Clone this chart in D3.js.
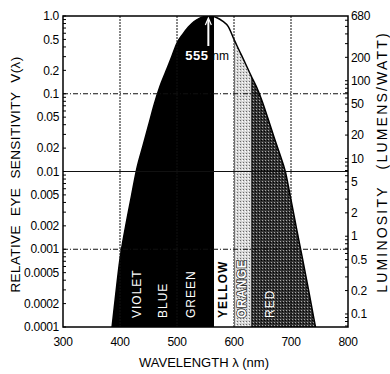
<!DOCTYPE html>
<html>
<head>
<meta charset="utf-8">
<script src="https://cdn.jsdelivr.net/npm/d3@7"></script>
<style>
  body { margin: 0; background: #fff; }
  svg { display: block; font-family: "Liberation Sans", Arial, sans-serif; }
</style>
</head>
<body>
<div id="chart"></div>
<script>
// eye sensitivity curve
var wavelengths = [380, 390, 400, 410, 420, 430, 440, 450, 460, 470, 480, 490, 500, 510, 520, 530, 540, 550, 555,
                   560, 570, 580, 590, 600, 610, 620, 630, 640, 650, 660, 670, 680, 690, 700, 710, 720, 730, 740, 750];
var sensitivity = [0.00004, 0.00018, 0.00075, 0.0020, 0.0048, 0.0113, 0.021, 0.039, 0.073, 0.124, 0.19, 0.29, 0.45, 0.58, 0.72, 0.85, 0.94, 0.99, 1.0,
                   0.99, 0.95, 0.86, 0.73, 0.50, 0.35, 0.245, 0.17, 0.12, 0.078, 0.047, 0.028, 0.017, 0.010, 0.0043, 0.0018, 0.00077, 0.00032, 0.00013, 0.000054];

var regionEdges = [380, 565, 600, 630, 760];
var bandNames = ["VIOLET", "BLUE", "GREEN", "YELLOW", "ORANGE", "RED"];
var bandLabelNm = [430, 476, 525, 581, 614, 664];

var xTicks = [300, 400, 500, 600, 700, 800];
var leftTicks = [1, 0.5, 0.2, 0.1, 0.05, 0.02, 0.01, 0.005, 0.002, 0.001, 0.0005, 0.0002, 0.0001];
var leftTickLabels = ["1.0", "0.5", "0.2", "0.1", "0.05", "0.02", "0.01", "0.005", "0.002", "0.001", "0.0005", "0.0002", "0.0001"];
var rightTicks = [680, 200, 100, 50, 20, 10, 5, 2, 1, 0.5, 0.2, 0.1];
var gridX = [400, 500, 600, 700];
var gridY = [0.1, 0.01, 0.001];
var peakNm = 555;
var maxLumens = 680;

var width = 390, height = 374;
var margin = { top: 16, right: 42, bottom: 47, left: 63 };
var x0 = margin.left, x1 = width - margin.right;
var y0 = height - margin.bottom, y1 = margin.top;

var x = d3.scaleLinear().domain([300, 800]).range([x0, x1]);
var y = d3.scaleLog().domain([0.0001, 1]).range([y0, y1]);
var yr = d3.scaleLog().domain([maxLumens * 0.0001, maxLumens]).range([y0, y1]);

var data = wavelengths.map(function(w, i) { return { nm: w, v: sensitivity[i] }; });

var svg = d3.select("#chart").append("svg")
    .attr("width", width)
    .attr("height", height);

var defs = svg.append("defs");
defs.append("clipPath").attr("id", "plot")
    .append("rect").attr("x", x0).attr("y", y1).attr("width", x1 - x0).attr("height", y0 - y1);

var po = defs.append("pattern").attr("id", "orange").attr("patternUnits", "userSpaceOnUse")
    .attr("width", 3).attr("height", 3);
po.append("rect").attr("width", 3).attr("height", 3).attr("fill", "#d6d6d6");
po.append("rect").attr("x", 0).attr("y", 0).attr("width", 1).attr("height", 1).attr("fill", "#6a6a6a");
po.append("rect").attr("x", 2).attr("y", 1).attr("width", 1).attr("height", 1).attr("fill", "#ffffff");

var pr = defs.append("pattern").attr("id", "red").attr("patternUnits", "userSpaceOnUse")
    .attr("width", 3).attr("height", 3);
pr.append("rect").attr("width", 3).attr("height", 3).attr("fill", "#333");
pr.append("rect").attr("x", 1).attr("y", 1).attr("width", 1).attr("height", 1).attr("fill", "#a8a8a8");
pr.append("rect").attr("x", 0).attr("y", 2).attr("width", 1).attr("height", 1).attr("fill", "#000");

var fills = ["#000", "#fff", "url(#orange)", "url(#red)"];
d3.range(regionEdges.length - 1).forEach(function(i) {
    defs.append("clipPath").attr("id", "band" + i)
        .append("rect")
        .attr("x", x(regionEdges[i])).attr("y", y1)
        .attr("width", x(regionEdges[i + 1]) - x(regionEdges[i])).attr("height", y0 - y1);
});

var area = d3.area()
    .x(function(d) { return x(d.nm); })
    .y0(y0)
    .y1(function(d) { return y(d.v); })
    .curve(d3.curveMonotoneX);

var line = d3.line()
    .x(function(d) { return x(d.nm); })
    .y(function(d) { return y(d.v); })
    .curve(d3.curveMonotoneX);

var plot = svg.append("g").attr("clip-path", "url(#plot)");

fills.forEach(function(f, i) {
    plot.append("g").attr("clip-path", "url(#band" + i + ")")
        .append("path").datum(data)
        .attr("d", area)
        .attr("fill", f);
});

plot.append("path").datum(data)
    .attr("d", line)
    .attr("fill", "none")
    .attr("stroke", "#000")
    .attr("stroke-width", 1.5);

// grid
plot.selectAll(".gx").data(gridX).enter().append("line")
    .attr("x1", function(d) { return x(d); }).attr("x2", function(d) { return x(d); })
    .attr("y1", y1).attr("y2", y0)
    .attr("stroke", "#111").attr("stroke-width", 1)
    .attr("stroke-dasharray", "2,1");

plot.selectAll(".gy").data(gridY).enter().append("line")
    .attr("x1", x0).attr("x2", x1)
    .attr("y1", function(d) { return y(d); }).attr("y2", function(d) { return y(d); })
    .attr("stroke", "#111").attr("stroke-width", 1)
    .attr("stroke-dasharray", function(d) { return d == 0.01 ? null : "5,2,1,2"; });

// 555nm marker
var px = x(peakNm);
plot.append("line").attr("x1", px).attr("x2", px).attr("y1", y1 + 4).attr("y2", y1 + 30)
    .attr("stroke", "#fff").attr("stroke-width", 2);
plot.append("path")
    .attr("d", "M" + (px - 3) + "," + (y1 + 9) + "L" + px + "," + (y1 + 2) + "L" + (px + 3) + "," + (y1 + 9))
    .attr("fill", "none").attr("stroke", "#fff").attr("stroke-width", 1.2);

svg.append("text").text(peakNm)
    .attr("x", px - 23).attr("y", y1 + 44)
    .attr("fill", "#fff")
    .style("font-size", "13px")
    .style("font-weight", "bold")
    .style("letter-spacing", "0.5px");
svg.append("text").text("nm")
    .attr("x", px + 4).attr("y", y1 + 44)
    .attr("fill", "#000")
    .style("font-size", "12px");

// band labels
svg.selectAll(".band").data(bandNames).enter().append("text")
    .text(function(d) { return d; })
    .attr("transform", function(d, i) { return "translate(" + (x(bandLabelNm[i]) + 4) + "," + (y0 - 9) + ") rotate(-90)"; })
    .attr("fill", function(d) { return d == "YELLOW" ? "#000" : "#fff"; })
    .style("font-size", "12px")
    .style("letter-spacing", "1px")
    .style("font-weight", function(d) { return d == "YELLOW" || d == "ORANGE" ? "bold" : "normal"; })
    .style("paint-order", "stroke")
    .attr("stroke", function(d) { return d == "ORANGE" ? "#333" : null; })
    .attr("stroke-width", 1.6);

// frame
svg.append("rect")
    .attr("x", x0).attr("y", y1).attr("width", x1 - x0).attr("height", y0 - y1)
    .attr("fill", "none").attr("stroke", "#000").attr("stroke-width", 1.5);

// left axis
var left = svg.append("g").attr("transform", "translate(" + x0 + ",0)");
left.selectAll(".mt").data(y.ticks()).enter().append("line")
    .attr("x1", 0).attr("x2", 3)
    .attr("y1", function(d) { return y(d); }).attr("y2", function(d) { return y(d); })
    .attr("stroke", "#000");
left.selectAll(".tl").data(leftTicks).enter().append("text")
    .text(function(d, i) { return leftTickLabels[i]; })
    .attr("x", -4)
    .attr("y", function(d) { return y(d); })
    .attr("dy", "0.35em")
    .style("text-anchor", "end")
    .style("font-size", "12px")
    .style("letter-spacing", "-0.3px");

// right axis
var right = svg.append("g").attr("transform", "translate(" + x1 + ",0)");
right.selectAll(".mt").data(yr.ticks()).enter().append("line")
    .attr("x1", 0).attr("x2", -3)
    .attr("y1", function(d) { return yr(d); }).attr("y2", function(d) { return yr(d); })
    .attr("stroke", "#000");
right.selectAll(".tl").data(rightTicks).enter().append("text")
    .text(function(d) { return d; })
    .attr("x", 3)
    .attr("y", function(d) { return yr(d); })
    .attr("dy", "0.35em")
    .style("font-size", "12px")
    .style("letter-spacing", "-0.3px");

// bottom axis
svg.selectAll(".xl").data(xTicks).enter().append("text")
    .text(function(d) { return d; })
    .attr("x", function(d) { return x(d); })
    .attr("y", y0 + 19)
    .style("text-anchor", "middle")
    .style("font-size", "12px")
    .style("letter-spacing", "-0.3px");

svg.append("text")
    .text("WAVELENGTH \u03bb (nm)")
    .attr("x", 204).attr("y", height - 7)
    .style("text-anchor", "middle")
    .style("font-size", "13px");

svg.append("text")
    .text("RELATIVE EYE SENSITIVITY V(\u03bb)")
    .attr("transform", "translate(20," + ((y0 + y1) / 2 + 3) + ") rotate(-90)")
    .style("text-anchor", "middle")
    .style("font-size", "13.5px")
    .style("letter-spacing", "0.4px")
    .style("word-spacing", "5px");

svg.append("text")
    .text("LUMINOSITY (LUMENS/WATT)")
    .attr("transform", "translate(387,162) rotate(-90)")
    .style("text-anchor", "middle")
    .style("font-size", "14px")
    .style("letter-spacing", "2.2px")
    .style("word-spacing", "10px");
</script>
</body>
</html>
